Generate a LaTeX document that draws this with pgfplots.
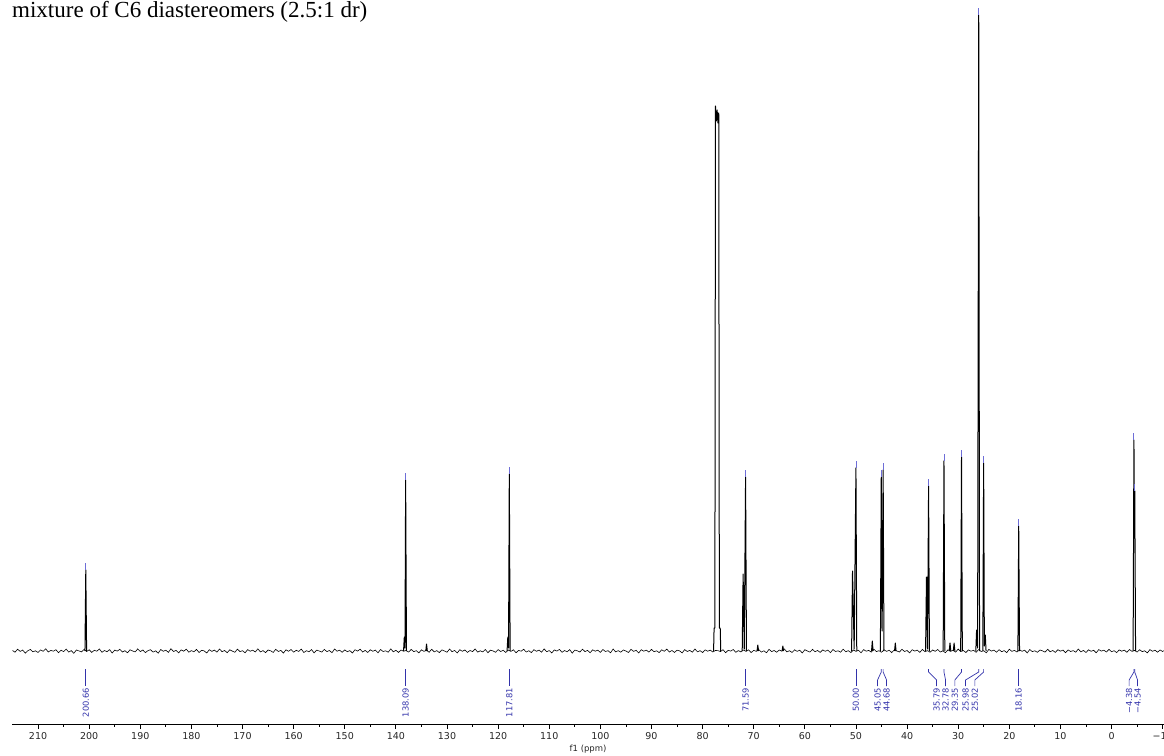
\documentclass[border=0pt]{standalone}
\usepackage{fontspec}
\usepackage{pgfplots}
\pgfplotsset{compat=1.18}
\setmainfont{Liberation Serif}
\newfontfamily\dejavu{DejaVu Sans}
\definecolor{labelblue}{RGB}{50,50,170}
\definecolor{markblue}{RGB}{110,110,215}
\begin{document}
\begin{tikzpicture}
\path[use as bounding box] (0,0) rectangle (1164pt,755pt);
\node[anchor=base west, inner sep=0, font=\fontsize{23}{27}\selectfont] at (12pt,737pt) {mixture of C6 diastereomers (2.5:1 dr)};
\begin{axis}[at={(12.5pt,31pt)}, anchor=south west, scale only axis,
  width=1151.2pt, height=724pt,
  xmin=-10.2, xmax=215, x dir=reverse, ymin=-73, ymax=651,
  axis x line=bottom, axis y line=none,
  axis line style={-, line width=0.8pt, black},
  xtick={-10,0,...,210},
  xticklabels={−10,0,10,20,30,40,50,60,70,80,90,100,110,120,130,140,150,160,170,180,190,200,210},
  minor x tick num=1, tick align=outside,
  major tick length=5pt, minor tick length=2.5pt,
  tick style={black, line width=0.8pt},
  ticklabel style={font=\dejavu\fontsize{9.5}{10}\selectfont, text=black!85},
  xlabel={f1 (ppm)},
  xlabel style={at={(axis description cs:0.5,0)}, anchor=center, yshift=-25pt, font=\dejavu\fontsize{8.5}{10}\selectfont, text=black!85},
  clip=false, unbounded coords=jump]
% baseline noise
\addplot[black, line width=0.6pt] coordinates {
(215,0.5)(214.5,-1.2)(214,1.8)(213.5,-0.4)(213,0.9)(212.5,-2.1)(212,0.3)(211.5,1.5)(211,-0.8)(210.5,0.2)
(210,-1.5)(209.5,1.1)(209,-0.3)(208.5,2.2)(208,-1.0)(207.5,0.6)(207,-0.2)(206.5,1.3)(206,-1.7)(205.5,0.8)
(205,-0.6)(204.5,1.9)(204,-1.1)(203.5,0.4)(203,-2.3)(202.5,1.0)(202,0.1)(201.5,-0.9)(201,1.6)(200.5,-0.5)
(200,1.2)(199.5,-1.4)(199,0.7)(198.5,-0.2)(198,2.0)(197.5,-1.3)(197,0.5)(196.5,-0.7)(196,1.4)(195.5,-2.0)
(195,0.9)(194.5,-0.1)(194,1.7)(193.5,-1.0)(193,0.3)(192.5,-1.8)(192,1.2)(191.5,0.0)(191,-0.9)(190.5,2.1)
(190,-0.6)(189.5,1.0)(189,-1.6)(188.5,0.4)(188,1.3)(187.5,-1.1)(187,0.2)(186.5,-2.2)(186,1.5)(185.5,-0.3)
(185,0.8)(184.5,-1.4)(184,2.3)(183.5,-0.5)(183,0.6)(182.5,-1.9)(182,1.1)(181.5,-0.2)(181,1.8)(180.5,-1.2)
(180,0.4)(179.5,-0.8)(179,1.6)(178.5,-1.5)(178,0.7)(177.5,0.1)(177,-2.0)(176.5,1.3)(176,-0.4)(175.5,0.9)
(175,-1.1)(174.5,2.0)(174,-0.7)(173.5,0.5)(173,-1.7)(172.5,1.2)(172,-0.1)(171.5,-1.3)(171,1.9)(170.5,-0.6)
(170,0.3)(169.5,-1.8)(169,1.4)(168.5,-0.2)(168,0.8)(167.5,-1.0)(167,2.2)(166.5,-0.9)(166,0.4)(165.5,-1.6)
(165,1.0)(164.5,0.2)(164,-1.4)(163.5,1.7)(163,-0.5)(162.5,0.6)(162,-2.1)(161.5,1.2)(161,-0.3)(160.5,1.5)
(160,-1.2)(159.5,0.7)(159,-0.4)(158.5,1.9)(158,-1.5)(157.5,0.3)(157,-0.8)(156.5,1.4)(156,-1.9)(155.5,0.9)
(155,0.0)(154.5,-1.1)(154,1.6)(153.5,-0.6)(153,0.5)(152.5,-1.7)(152,2.0)(151.5,-0.2)(151,0.8)(150.5,-1.3)
(150,1.1)(149.5,-0.7)(149,0.4)(148.5,-2.0)(148,1.3)(147.5,-0.1)(147,1.8)(146.5,-1.0)(146,0.6)(145.5,-1.5)
(145,1.2)(144.5,-0.3)(144,0.9)(143.5,-1.8)(143,1.5)(142.5,-0.5)(142,0.2)(141.5,-1.2)(141,2.1)(140.5,-0.8)
(140,0.7)(139.5,-1.4)(139,1.0)(138.5,-0.2)(138,0.5)(137.5,-1.1)(137,1.6)(136.5,-0.6)(136,0.3)(135.5,-1.9)
(135,1.2)(134.5,-0.4)(134,0.8)(133.5,-1.3)(133,1.7)(132.5,-0.9)(132,0.4)(131.5,-1.6)(131,1.1)(130.5,0.0)
(130,-1.2)(129.5,1.9)(129,-0.7)(128.5,0.6)(128,-2.0)(127.5,1.3)(127,-0.3)(126.5,1.0)(126,-1.4)(125.5,0.5)
(125,-0.6)(124.5,2.0)(124,-1.1)(123.5,0.2)(123,-0.9)(122.5,1.5)(122,-1.7)(121.5,0.8)(121,0.1)(120.5,-1.3)
(120,1.4)(119.5,-0.5)(119,0.7)(118.5,-1.5)(118,1.0)(117.5,-0.4)(117,1.2)(116.5,-1.8)(116,0.6)(115.5,-0.2)
(115,1.7)(114.5,-1.0)(114,0.3)(113.5,-1.6)(113,1.3)(112.5,-0.3)(112,0.9)(111.5,-1.2)(111,2.1)(110.5,-0.7)
(110,0.4)(109.5,-1.9)(109,1.1)(108.5,-0.1)(108,1.6)(107.5,-1.3)(107,0.5)(106.5,-0.8)(106,1.4)(105.5,-2.1)
(105,0.9)(104.5,0.2)(104,-1.0)(103.5,1.8)(103,-0.6)(102.5,0.6)(102,-1.7)(101.5,1.2)(101,-0.2)(100.5,0.8)
(100,-1.4)(99.5,1.5)(99,-0.5)(98.5,0.3)(98,-1.8)(97.5,2.0)(97,-0.9)(96.5,0.4)(96,-1.2)(95.5,1.0)
(95,0.0)(94.5,-1.5)(94,1.7)(93.5,-0.4)(93,0.7)(92.5,-2.0)(92,1.3)(91.5,-0.2)(91,0.9)(90.5,-1.1)
(90,1.6)(89.5,-0.7)(89,0.2)(88.5,-1.6)(88,1.2)(87.5,-0.3)(87,1.9)(86.5,-1.0)(86,0.5)(85.5,-1.4)
(85,0.8)(84.5,0.1)(84,-1.9)(83.5,1.4)(83,-0.5)(82.5,0.6)(82,-1.2)(81.5,2.0)(81,-0.8)(80.5,0.3)
(80,-1.5)(79.5,1.1)(79,-0.2)(78.5,0.9)(78,-1.0)(77.5,0.5)(77,0.4)(76.5,-0.6)(76,1.3)(75.5,-1.7)
(75,0.7)(74.5,-0.1)(74,1.5)(73.5,-1.3)(73,0.4)(72.5,-0.9)(72,1.0)(71.5,-0.4)(71,1.2)(70.5,-1.6)
(70,0.6)(69.5,-0.3)(69,1.4)(68.5,-1.1)(68,0.2)(67.5,-1.8)(67,1.7)(66.5,-0.6)(66,0.5)(65.5,-1.2)
(65,1.0)(64.5,-0.2)(64,2.0)(63.5,-0.9)(63,0.3)(62.5,-1.5)(62,1.2)(61.5,-0.4)(61,0.8)(60.5,-2.0)
(60,1.3)(59.5,0.0)(59,-1.1)(58.5,1.6)(58,-0.7)(57.5,0.5)(57,-1.4)(56.5,1.1)(56,-0.3)(55.5,0.9)
(55,-1.7)(54.5,1.5)(54,-0.5)(53.5,0.2)(53,-1.2)(52.5,1.8)(52,-0.8)(51.5,0.4)(51,-1.5)(50.5,1.0)
(50,-0.3)(49.5,0.7)(49,-1.8)(48.5,1.4)(48,-0.2)(47.5,0.6)(47,-1.1)(46.5,1.9)(46,-0.6)(45.5,0.3)
(45,-1.3)(44.5,1.2)(44,-0.4)(43.5,0.8)(43,-1.6)(42.5,1.1)(42,0.0)(41.5,-1.0)(41,1.7)(40.5,-0.5)
(40,0.5)(39.5,-1.9)(39,1.3)(38.5,-0.1)(38,0.9)(37.5,-1.4)(37,1.6)(36.5,-0.7)(36,0.4)(35.5,-1.2)
(35,1.0)(34.5,-0.3)(34,1.5)(33.5,-1.0)(33,0.2)(32.5,-1.7)(32,1.2)(31.5,-0.4)(31,0.8)(30.5,-1.1)
(30,1.9)(29.5,-0.6)(29,0.5)(28.5,-1.5)(28,1.1)(27.5,-0.2)(27,0.7)(26.5,-1.3)(26,1.4)(25.5,-0.5)
(25,0.3)(24.5,-1.8)(24,1.6)(23.5,-0.1)(23,0.9)(22.5,-1.2)(22,1.3)(21.5,-0.7)(21,0.4)(20.5,-1.6)
(20,1.8)(19.5,-0.4)(19,0.6)(18.5,-1.0)(18,1.2)(17.5,-0.3)(17,0.8)(16.5,-1.9)(16,1.5)(15.5,-0.6)
(15,0.2)(14.5,-1.3)(14,1.0)(13.5,0.1)(13,-1.1)(12.5,1.7)(12,-0.8)(11.5,0.5)(11,-1.4)(10.5,1.3)
(10,-0.2)(9.5,0.9)(9,-1.7)(8.5,1.1)(8,-0.5)(7.5,0.4)(7,-1.2)(6.5,2.0)(6,-0.9)(5.5,0.6)
(5,-1.5)(4.5,1.2)(4,-0.3)(3.5,0.7)(3,-1.8)(2.5,1.4)(2,-0.1)(1.5,0.8)(1,-1.0)(0.5,1.6)
(0,-0.7)(-0.5,0.3)(-1,-1.6)(-1.5,1.1)(-2,-0.2)(-2.5,0.9)(-3,-1.3)(-3.5,1.5)(-4,-0.4)(-4.5,0.6)
(-5,-1.1)(-5.5,1.3)(-6,-0.6)(-6.5,0.2)(-7,-1.9)(-7.5,1.4)(-8,-0.3)(-8.5,0.8)(-9,-1.2)(-9.5,1.0)
(-10,-0.5)(-10.2,0.3)
};
% peaks
\addplot[black, line width=1pt, line join=round] coordinates {
(200.82,0)(200.66,81)(200.50,0) (200,nan)
(138.50,0)(138.35,14)(138.22,3)(138.09,171)(137.93,0) (137,nan)
(134.15,0)(134.0,7)(133.85,0) (133,nan)
(118.25,0)(118.1,14)(117.96,3)(117.81,177)(117.65,0) (117,nan)
(77.85,0)(77.75,23)(77.6,23)(77.48,545)(77.32,530)(77.16,541)(77.0,528)(76.84,538)(76.72,23)(76.55,23)(76.45,0) (76,nan)
(72.25,0)(72.07,77)(71.85,2)(71.59,174)(71.42,0) (71,nan)
(69.35,0)(69.2,6)(69.05,0) (68,nan)
(64.45,0)(64.3,5)(64.15,0) (63,nan)
(50.85,0)(50.67,80)(50.35,2)(50.00,183)(49.84,0) (49,nan)
(46.95,0)(46.8,10)(46.65,0) (46,nan)
(45.22,0)(45.05,174)(44.88,20)(44.68,181)(44.52,0) (44,nan)
(42.45,0)(42.3,8)(42.15,0) (41,nan)
(36.38,0)(36.2,74)(36.0,2)(35.79,165)(35.63,0) (35,nan)
(32.94,0)(32.78,190)(32.62,0) (32,nan)
(31.75,0)(31.6,8)(31.45,0) (31.2,nan)
(30.95,0)(30.8,8)(30.65,0) (30.2,nan)
(29.51,0)(29.35,194)(29.19,0) (28,nan)
(26.55,0)(26.4,21)(26.2,3)(25.98,636)(25.82,0) (25.6,nan)
(25.18,0)(25.02,188)(24.88,5)(24.7,16)(24.55,0) (24,nan)
(18.32,0)(18.16,125)(18.00,0) (17,nan)
(-4.22,0)(-4.38,211)(-4.46,150)(-4.54,160)(-4.70,0)
};
% peak-pick markers
\foreach \px/\py in {200.66/81,138.09/171,117.81/177,71.59/174,50.00/183,45.05/174,44.68/181,35.79/165,32.78/190,29.35/194,25.98/636,25.02/188,18.16/125,-4.38/211,-4.54/160}{
  \edef\tmp{\noexpand\draw[markblue, line width=0.9pt] (axis cs:\px,\py) -- (axis cs:\px,\py+7);}\tmp
}
% single labels
\foreach \px/\lab in {200.66/200.66,138.09/138.09,117.81/117.81,71.59/71.59,50.00/50.00,18.16/18.16}{
  \edef\tmp{\noexpand\draw[labelblue, line width=0.7pt] (axis cs:\px,-18) -- (axis cs:\px,-35);
  \noexpand\node[rotate=90, anchor=east, inner sep=0pt, font=\noexpand\dejavu\noexpand\fontsize{8.3}{9}\noexpand\selectfont, text=labelblue] at (axis cs:\px,-37) {\lab};}\tmp
}
% grouped labels
\foreach \px/\lx/\lab in {45.05/45.77/45.05,44.68/44.01/44.68,35.79/34.23/35.79,32.78/32.47/32.78,29.35/30.65/29.35,25.98/28.56/25.98,25.02/26.74/25.02,-4.38/-3.44/−4.38,-4.54/-5.09/−4.54}{
  \edef\tmp{\noexpand\draw[labelblue, line width=0.7pt] (axis cs:\px,-18) -- (axis cs:\px,-21) -- (axis cs:\lx,-29) -- (axis cs:\lx,-35);
  \noexpand\node[rotate=90, anchor=east, inner sep=0pt, font=\noexpand\dejavu\noexpand\fontsize{8.3}{9}\noexpand\selectfont, text=labelblue] at (axis cs:\lx,-37) {\lab};}\tmp
}
\end{axis}
\end{tikzpicture}
\end{document}
